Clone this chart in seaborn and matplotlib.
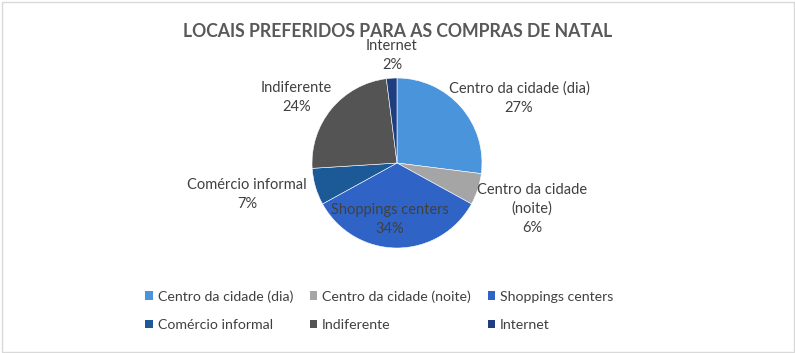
import matplotlib
matplotlib.use("Agg")
import matplotlib.pyplot as plt
import seaborn as sns
from matplotlib.patches import Rectangle, Patch

# dados
categorias = ["Centro da cidade (dia)", "Centro da cidade (noite)", "Shoppings centers",
              "Comércio informal", "Indiferente", "Internet"]
rotulos = ["Centro da cidade (dia)", "Centro da cidade\n(noite)", "Shoppings centers",
           "Comércio informal", "Indiferente", "Internet"]
percentuais = [27, 6, 34, 7, 24, 2]

cores = ["#4A94DC", "#A5A5A5", "#2F64C6", "#1C5A97", "#545454", "#1F3E80"]

# posição dos rótulos (em raios, relativo ao centro)
pos_rotulos = [(1.435, 0.765), (1.59, -0.54), (-0.08, -0.67),
               (-1.765, -0.376), (-1.18, 0.765), (-0.06, 1.26)]

sns.set_theme(style="white")
plt.rcParams['font.family'] = ['Lato', 'DejaVu Sans']

fig = plt.figure(figsize=(7.95, 3.53), dpi=100)
ax = fig.add_axes([312 / 795, 105 / 353, 170 / 795, 170 / 353])

wedges, _ = ax.pie(percentuais, colors=cores, startangle=90, counterclock=False,
                   wedgeprops=dict(edgecolor="white", linewidth=0.4))
ax.set_xlim(-1, 1)
ax.set_ylim(-1, 1)
ax.set_aspect("equal")

for txt, p, (x, y) in zip(rotulos, percentuais, pos_rotulos):
    ax.text(x, y, f"{txt}\n{p}%", ha="center", va="center", fontsize=10.5,
            color="#404040", linespacing=1.45, clip_on=False)

fig.text(0.5, 0.912, "LOCAIS PREFERIDOS PARA AS COMPRAS DE NATAL", ha="center", va="center",
         fontsize=12.7, fontweight="bold", color="#595959")

# legenda preenchida por linhas
ordem = [0, 3, 1, 4, 2, 5]
handles = [Patch(facecolor=cores[i], edgecolor="none") for i in ordem]
nomes = [categorias[i] for i in ordem]
fig.legend(handles, nomes, loc="center", bbox_to_anchor=(0.477, 0.12), ncol=3,
           frameon=False, fontsize=10.2, handlelength=0.5, handleheight=0.55,
           handletextpad=0.35, columnspacing=1.2, labelspacing=1.15,
           labelcolor="#404040")

fig.patches.append(Rectangle((1.5 / 795, 1.5 / 353), 1 - 3 / 795, 1 - 3 / 353,
                             transform=fig.transFigure, fill=False,
                             edgecolor="#D9D9D9", linewidth=1))

fig.savefig("out.png", dpi=100)
